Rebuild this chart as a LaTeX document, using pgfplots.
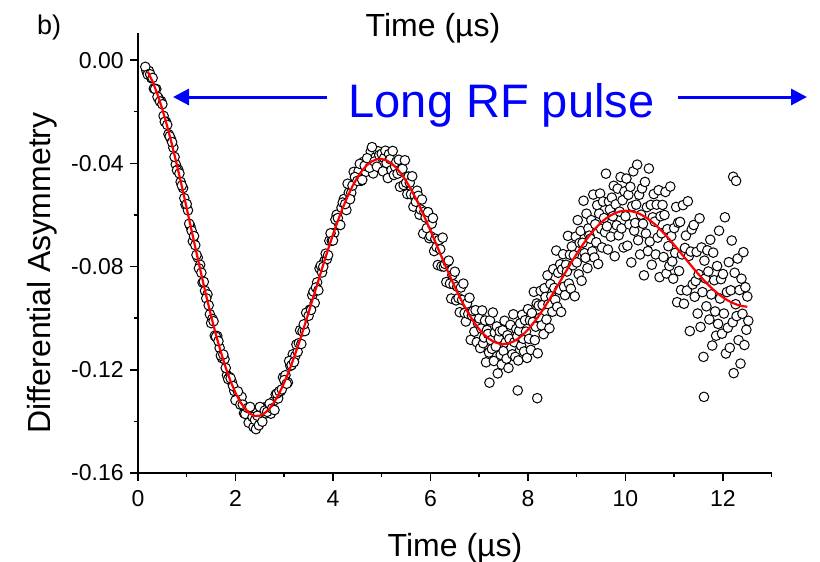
\documentclass[border=0pt]{standalone}
\usepackage{fontspec}
\setmainfont{Liberation Sans}
\usepackage{pgfplots}
\usepackage{pgfplotstable}
\pgfplotsset{compat=1.18}
\usetikzlibrary{arrows.meta}

\pgfplotstableread{
t y
0.175 -0.0042
0.225 -0.0042
0.275 -0.0070
0.325 -0.0110
0.375 -0.0112
0.425 -0.0149
0.475 -0.0159
0.525 -0.0216
0.575 -0.0239
0.625 -0.0287
0.675 -0.0305
0.725 -0.0339
0.775 -0.0404
0.825 -0.0424
0.875 -0.0472
0.925 -0.0496
0.975 -0.0560
1.025 -0.0582
1.075 -0.0644
1.125 -0.0702
1.175 -0.0717
1.225 -0.0765
1.275 -0.0793
1.325 -0.0862
1.375 -0.0894
1.425 -0.0908
1.475 -0.0985
1.525 -0.1003
1.575 -0.1068
1.625 -0.1069
1.675 -0.1115
1.725 -0.1155
1.775 -0.1159
1.825 -0.1221
1.875 -0.1228
1.925 -0.1247
1.975 -0.1282
2.025 -0.1314
2.075 -0.1310
2.125 -0.1305
2.175 -0.1368
2.225 -0.1354
2.275 -0.1375
2.325 -0.1354
2.375 -0.1408
2.425 -0.1367
2.475 -0.1379
2.525 -0.1395
2.575 -0.1347
2.625 -0.1369
2.675 -0.1340
2.725 -0.1370
2.775 -0.1323
2.825 -0.1296
2.875 -0.1311
2.925 -0.1283
2.975 -0.1229
3.025 -0.1221
3.075 -0.1249
3.125 -0.1185
3.175 -0.1140
3.225 -0.1147
3.275 -0.1130
3.325 -0.1047
3.375 -0.1051
3.425 -0.1050
3.475 -0.0980
3.525 -0.0967
3.575 -0.0911
3.625 -0.0941
3.675 -0.0861
3.725 -0.0807
3.775 -0.0823
3.825 -0.0778
3.875 -0.0771
3.925 -0.0700
3.975 -0.0700
4.025 -0.0670
4.075 -0.0599
4.125 -0.0636
4.175 -0.0572
4.225 -0.0538
4.275 -0.0581
4.325 -0.0513
4.375 -0.0514
4.425 -0.0433
4.475 -0.0466
4.525 -0.0430
4.575 -0.0468
4.625 -0.0394
4.675 -0.0433
4.725 -0.0403
4.775 -0.0354
4.825 -0.0439
4.875 -0.0376
4.925 -0.0353
4.975 -0.0396
}\datatableb

\pgfplotstableread{
t y
0.15 -0.0026
0.20 -0.0056
0.25 -0.0055
0.30 -0.0069
0.35 -0.0112
0.40 -0.0142
0.45 -0.0160
0.50 -0.0171
0.55 -0.0239
0.60 -0.0251
0.65 -0.0295
0.70 -0.0318
0.75 -0.0375
0.80 -0.0427
0.85 -0.0439
0.90 -0.0486
0.95 -0.0535
1.00 -0.0558
1.05 -0.0634
1.10 -0.0661
1.15 -0.0682
1.20 -0.0755
1.25 -0.0807
1.30 -0.0824
1.35 -0.0859
1.40 -0.0923
1.45 -0.0950
1.50 -0.1019
1.55 -0.1012
1.60 -0.1072
1.65 -0.1089
1.70 -0.1145
1.75 -0.1141
1.80 -0.1193
1.85 -0.1236
1.90 -0.1233
1.95 -0.1263
2.00 -0.1318
2.05 -0.1284
2.10 -0.1335
2.15 -0.1335
2.20 -0.1371
2.25 -0.1348
2.27 -0.1405
2.30 -0.1344
2.35 -0.1383
2.37 -0.1422
2.40 -0.1394
2.42 -0.1430
2.45 -0.1378
2.48 -0.1415
2.50 -0.1344
2.55 -0.1401
2.60 -0.1358
2.65 -0.1363
2.70 -0.1331
2.75 -0.1350
2.80 -0.1356
2.85 -0.1292
2.90 -0.1283
2.95 -0.1276
3.00 -0.1240
3.05 -0.1254
3.10 -0.1166
3.15 -0.1182
3.20 -0.1170
3.25 -0.1102
3.30 -0.1097
3.35 -0.1100
3.40 -0.1024
3.45 -0.0979
3.50 -0.0991
3.55 -0.0968
3.60 -0.0897
3.65 -0.0881
3.70 -0.0892
3.75 -0.0796
3.80 -0.0801
3.85 -0.0750
3.90 -0.0756
3.95 -0.0671
4.00 -0.0699
4.05 -0.0618
4.10 -0.0612
4.15 -0.0639
4.20 -0.0552
4.25 -0.0558
4.30 -0.0479
4.35 -0.0539
4.40 -0.0486
4.45 -0.0453
4.50 -0.0468
4.55 -0.0402
4.60 -0.0464
4.65 -0.0409
4.70 -0.0380
4.75 -0.0417
4.80 -0.0337
4.85 -0.0393
4.90 -0.0413
4.95 -0.0368
5.000 -0.0363
5.025 -0.0431
5.050 -0.0379
5.075 -0.0351
5.100 -0.0399
5.125 -0.0457
5.150 -0.0364
5.175 -0.0384
5.200 -0.0426
5.225 -0.0352
5.250 -0.0445
5.275 -0.0413
5.300 -0.0394
5.325 -0.0440
5.350 -0.0386
5.375 -0.0491
5.400 -0.0430
5.425 -0.0421
5.450 -0.0484
5.475 -0.0388
5.500 -0.0475
5.525 -0.0519
5.550 -0.0451
5.575 -0.0475
5.600 -0.0520
5.625 -0.0450
5.650 -0.0568
5.675 -0.0524
5.700 -0.0549
5.725 -0.0506
5.750 -0.0526
5.775 -0.0599
5.800 -0.0579
5.825 -0.0540
5.850 -0.0672
5.875 -0.0587
5.900 -0.0610
5.925 -0.0651
5.950 -0.0589
5.975 -0.0690
6.000 -0.0682
6.025 -0.0634
6.050 -0.0612
6.075 -0.0740
6.100 -0.0692
6.125 -0.0724
6.150 -0.0794
6.175 -0.0697
6.200 -0.0733
6.225 -0.0799
6.250 -0.0688
6.275 -0.0800
6.300 -0.0790
6.325 -0.0860
6.350 -0.0782
6.375 -0.0777
6.400 -0.0866
6.425 -0.0924
6.450 -0.0833
6.475 -0.0869
6.500 -0.0820
6.525 -0.0931
6.550 -0.0878
6.575 -0.0922
6.600 -0.0977
6.625 -0.0881
6.650 -0.0929
6.675 -0.0866
6.700 -0.0980
6.725 -0.1013
6.750 -0.0943
6.775 -0.0984
6.800 -0.0921
6.825 -0.1084
6.850 -0.0990
6.875 -0.0972
6.900 -0.1052
6.925 -0.0969
6.950 -0.1093
6.975 -0.1020
7.00 -0.1001
7.02 -0.1116
7.04 -0.1040
7.06 -0.0970
7.08 -0.1097
7.10 -0.1075
7.12 -0.1009
7.14 -0.1171
7.16 -0.1046
7.18 -0.1061
7.20 -0.1133
7.21 -0.1250
7.22 -0.1008
7.24 -0.1085
7.26 -0.1119
7.28 -0.0978
7.30 -0.1166
7.32 -0.1056
7.34 -0.1110
7.36 -0.1032
7.38 -0.1214
7.40 -0.1077
7.42 -0.1051
7.44 -0.1142
7.46 -0.1180
7.48 -0.1047
7.50 -0.1127
7.52 -0.1010
7.54 -0.1094
7.56 -0.1157
7.58 -0.1066
7.60 -0.1193
7.62 -0.1080
7.64 -0.1026
7.66 -0.1115
7.68 -0.1140
7.70 -0.0985
7.72 -0.1093
7.74 -0.1150
7.76 -0.1042
7.78 -0.1070
7.79 -0.1280
7.80 -0.1164
7.82 -0.1049
7.84 -0.1020
7.86 -0.1107
7.88 -0.0987
7.90 -0.1080
7.92 -0.1129
7.94 -0.1008
7.96 -0.1052
7.98 -0.1154
8.00 -0.0965
8.02 -0.1080
8.04 -0.1009
8.06 -0.1123
8.08 -0.0980
8.10 -0.1015
8.12 -0.0898
8.14 -0.1085
8.16 -0.1033
8.18 -0.0943
8.19 -0.1310
8.20 -0.1136
8.22 -0.0951
8.24 -0.0999
8.26 -0.0894
8.28 -0.1028
8.30 -0.0949
8.32 -0.1062
8.34 -0.0884
8.36 -0.0918
8.38 -0.1005
8.40 -0.0834
8.42 -0.0946
8.44 -0.1039
8.46 -0.0868
8.48 -0.0915
8.50 -0.0975
8.52 -0.0810
8.54 -0.0883
8.56 -0.0929
8.58 -0.0738
8.60 -0.0956
8.62 -0.0824
8.64 -0.0890
8.66 -0.0791
8.68 -0.0976
8.70 -0.0811
8.72 -0.0752
8.74 -0.0878
8.76 -0.0911
8.78 -0.0793
8.80 -0.0819
8.82 -0.0681
8.84 -0.0866
8.86 -0.0754
8.88 -0.0886
8.90 -0.0722
8.92 -0.0795
8.94 -0.0756
8.96 -0.0915
8.98 -0.0684
9.00 -0.0784
9.02 -0.0620
9.04 -0.0830
9.06 -0.0708
9.08 -0.0662
9.10 -0.0855
9.12 -0.0708
9.14 -0.0545
9.16 -0.0748
9.18 -0.0766
9.20 -0.0595
9.22 -0.0806
9.24 -0.0652
9.26 -0.0680
9.28 -0.0692
9.30 -0.0620
9.32 -0.0741
9.34 -0.0521
9.36 -0.0765
9.38 -0.0636
9.40 -0.0706
9.42 -0.0562
9.44 -0.0790
9.46 -0.0595
9.48 -0.0517
9.50 -0.0654
9.52 -0.0726
9.54 -0.0548
9.56 -0.0612
9.58 -0.0667
9.60 -0.0440
9.62 -0.0644
9.64 -0.0734
9.66 -0.0548
9.68 -0.0579
9.70 -0.0684
9.72 -0.0533
9.74 -0.0605
9.76 -0.0487
9.78 -0.0760
9.80 -0.0559
9.82 -0.0640
9.84 -0.0498
9.86 -0.0679
9.88 -0.0587
9.90 -0.0453
9.92 -0.0652
9.94 -0.0543
9.96 -0.0726
9.98 -0.0509
10.00 -0.0605
10.02 -0.0459
10.04 -0.0719
10.06 -0.0522
10.08 -0.0637
10.10 -0.0491
10.12 -0.0784
10.14 -0.0566
10.16 -0.0431
10.18 -0.0661
10.20 -0.0631
10.22 -0.0560
10.24 -0.0405
10.26 -0.0698
10.28 -0.0522
10.30 -0.0753
10.32 -0.0599
10.34 -0.0497
10.36 -0.0634
10.38 -0.0834
10.40 -0.0472
10.42 -0.0672
10.44 -0.0570
10.46 -0.0740
10.48 -0.0420
10.50 -0.0703
10.52 -0.0561
10.54 -0.0793
10.56 -0.0609
10.58 -0.0519
10.60 -0.0626
10.62 -0.0753
10.64 -0.0560
10.66 -0.0688
10.68 -0.0504
10.70 -0.0841
10.72 -0.0605
10.74 -0.0671
10.76 -0.0561
10.78 -0.0763
10.80 -0.0600
10.82 -0.0511
10.84 -0.0827
10.86 -0.0655
10.88 -0.0721
10.90 -0.0798
10.92 -0.0490
10.94 -0.0682
10.96 -0.0780
10.98 -0.0847
11.00 -0.0651
11.02 -0.0747
11.04 -0.0569
11.06 -0.0938
11.08 -0.0630
11.10 -0.0817
11.12 -0.0627
11.14 -0.0891
11.16 -0.0753
11.18 -0.0562
11.20 -0.0944
11.22 -0.0728
11.24 -0.0680
11.26 -0.0893
11.28 -0.0547
11.30 -0.0759
11.32 -0.1050
11.34 -0.0742
11.36 -0.0656
11.38 -0.0869
11.40 -0.0639
11.42 -0.0917
11.44 -0.0856
11.46 -0.0743
11.48 -0.0982
11.50 -0.0830
11.52 -0.0613
11.54 -0.1034
11.56 -0.0726
11.58 -0.0899
11.60 -0.1150
11.61 -0.1305
11.62 -0.0777
11.64 -0.0846
11.66 -0.0954
11.68 -0.0737
11.70 -0.0819
11.72 -0.1005
11.74 -0.0696
11.76 -0.0908
11.78 -0.1106
11.80 -0.0746
11.82 -0.0853
11.84 -0.0974
11.86 -0.1068
11.88 -0.0798
11.90 -0.1022
11.92 -0.0661
11.94 -0.0924
11.96 -0.0849
11.98 -0.1060
12.00 -0.0829
12.02 -0.0982
12.04 -0.0609
12.06 -0.1137
12.08 -0.0899
12.10 -0.1037
12.12 -0.0783
12.14 -0.1115
12.16 -0.0892
12.18 -0.0699
12.20 -0.1016
12.21 -0.0452
12.22 -0.1213
12.24 -0.0824
12.26 -0.0946
12.27 -0.0468
12.28 -0.0992
12.30 -0.0769
12.32 -0.1085
12.34 -0.0891
12.36 -0.1176
12.38 -0.0847
12.40 -0.0983
12.42 -0.0744
12.44 -0.1104
12.46 -0.0880
12.48 -0.1045
12.50 -0.0916
12.52 -0.1010
}\datatable

\pgfplotstableread{
t y
0.2 -0.00445
0.3 -0.00836
0.4 -0.01326
0.5 -0.01907
0.6 -0.02568
0.7 -0.03294
0.8 -0.04076
0.9 -0.04896
1.0 -0.05746
1.1 -0.06607
1.2 -0.07467
1.3 -0.08313
1.4 -0.09134
1.5 -0.09915
1.6 -0.10646
1.7 -0.11318
1.8 -0.11920
1.9 -0.12447
2.0 -0.12893
2.1 -0.13252
2.2 -0.13523
2.3 -0.13703
2.4 -0.13792
2.5 -0.13777
2.6 -0.13681
2.7 -0.13500
2.8 -0.13238
2.9 -0.12902
3.0 -0.12499
3.1 -0.12038
3.2 -0.11526
3.3 -0.10973
3.4 -0.10386
3.5 -0.09780
3.6 -0.09162
3.7 -0.08541
3.8 -0.07928
3.9 -0.07331
4.0 -0.06761
4.1 -0.06224
4.2 -0.05728
4.3 -0.05281
4.4 -0.04886
4.5 -0.04549
4.6 -0.04275
4.7 -0.04064
4.8 -0.03921
4.9 -0.03843
5.0 -0.03832
5.1 -0.03885
5.2 -0.04001
5.3 -0.04175
5.4 -0.04403
5.5 -0.04682
5.6 -0.05004
5.7 -0.05364
5.8 -0.05755
5.9 -0.06173
6.0 -0.06605
6.1 -0.07050
6.2 -0.07498
6.3 -0.07941
6.4 -0.08374
6.5 -0.08790
6.6 -0.09184
6.7 -0.09549
6.8 -0.09883
6.9 -0.10177
7.0 -0.10429
7.1 -0.10637
7.2 -0.10799
7.3 -0.10915
7.4 -0.10985
7.5 -0.11005
7.6 -0.10978
7.7 -0.10906
7.8 -0.10791
7.9 -0.10636
8.0 -0.10444
8.1 -0.10220
8.2 -0.09967
8.3 -0.09691
8.4 -0.09396
8.5 -0.09086
8.6 -0.08768
8.7 -0.08444
8.8 -0.08123
8.9 -0.07809
9.0 -0.07506
9.1 -0.07218
9.2 -0.06949
9.3 -0.06704
9.4 -0.06484
9.5 -0.06294
9.6 -0.06136
9.7 -0.06010
9.8 -0.05917
9.9 -0.05859
10.0 -0.05837
10.1 -0.05848
10.2 -0.05892
10.3 -0.05967
10.4 -0.06071
10.5 -0.06203
10.6 -0.06358
10.7 -0.06536
10.8 -0.06731
10.9 -0.06941
11.0 -0.07162
11.1 -0.07390
11.2 -0.07621
11.3 -0.07853
11.4 -0.08081
11.5 -0.08301
11.6 -0.08512
11.7 -0.08709
11.8 -0.08890
11.9 -0.09052
12.0 -0.09194
12.1 -0.09315
12.2 -0.09412
12.3 -0.09485
12.4 -0.09534
12.5 -0.09556
}\fittable

\begin{document}
\begin{tikzpicture}
\path[use as bounding box] (0,0) rectangle (410pt,-281pt);
\begin{axis}[
  at={(69pt,-236.5pt)}, anchor=south west,
  width=316.85pt, height=219.85pt, scale only axis,
  xmin=0, xmax=13, ymin=-0.16, ymax=0.0104,
  axis lines*=left,
  axis line style={line width=0.75pt},
  xtick={0,2,...,12}, xticklabels={0,2,4,6,8,10,12},
  minor xtick={1,3,...,13},
  ytick={-0.16,-0.12,-0.08,-0.04,0},
  yticklabels={-0.16,-0.12,-0.08,-0.04,0.00},
  minor ytick={-0.14,-0.10,-0.06,-0.02},
  tick align=outside, major tick length=4pt, minor tick length=2.2pt,
  every tick/.style={black, line width=0.75pt},
  tick label style={font=\fontsize{11.5}{13}\selectfont},
  xticklabel style={anchor=north, inner sep=0pt, yshift=-4.5pt},
  yticklabel style={anchor=east, inner sep=0pt, xshift=-3pt},
  clip mode=individual,
]
\addplot[only marks, mark=*, mark size=2.4pt,
  mark options={draw=black, fill=white, line width=0.5pt}] table[x=t,y=y] {\datatableb};
\addplot[only marks, mark=*, mark size=2.4pt,
  mark options={draw=black, fill=white, line width=0.5pt}] table[x=t,y=y] {\datatable};
\addplot[red, line width=1.1pt, no marks] table[x=t,y=y] {\fittable};
\end{axis}
\node[anchor=base west, font=\fontsize{13.5}{15}\selectfont] at (15pt,-17pt) {b)};
\node[anchor=base, font=\fontsize{16}{19}\selectfont] at (216.5pt,-18pt) {Time (µs)};
\node[anchor=base, font=\fontsize{16}{19}\selectfont] at (227.5pt,-278pt) {Time (µs)};
\node[anchor=base, rotate=90, font=\fontsize{16}{19}\selectfont] at (25pt,-136.5pt) {Differential Asymmetry};
\node[anchor=base, text=blue, font=\fontsize{23.5}{28}\selectfont] at (250.75pt,-58.5pt) {Long RF pulse};
\draw[blue, line width=1.5pt, -{Triangle[length=8pt,width=8pt]}] (163.5pt,-48.5pt) -- (86.5pt,-48.5pt);
\draw[blue, line width=1.5pt, -{Triangle[length=8pt,width=8pt]}] (339pt,-48.5pt) -- (403.5pt,-48.5pt);
\end{tikzpicture}
\end{document}
